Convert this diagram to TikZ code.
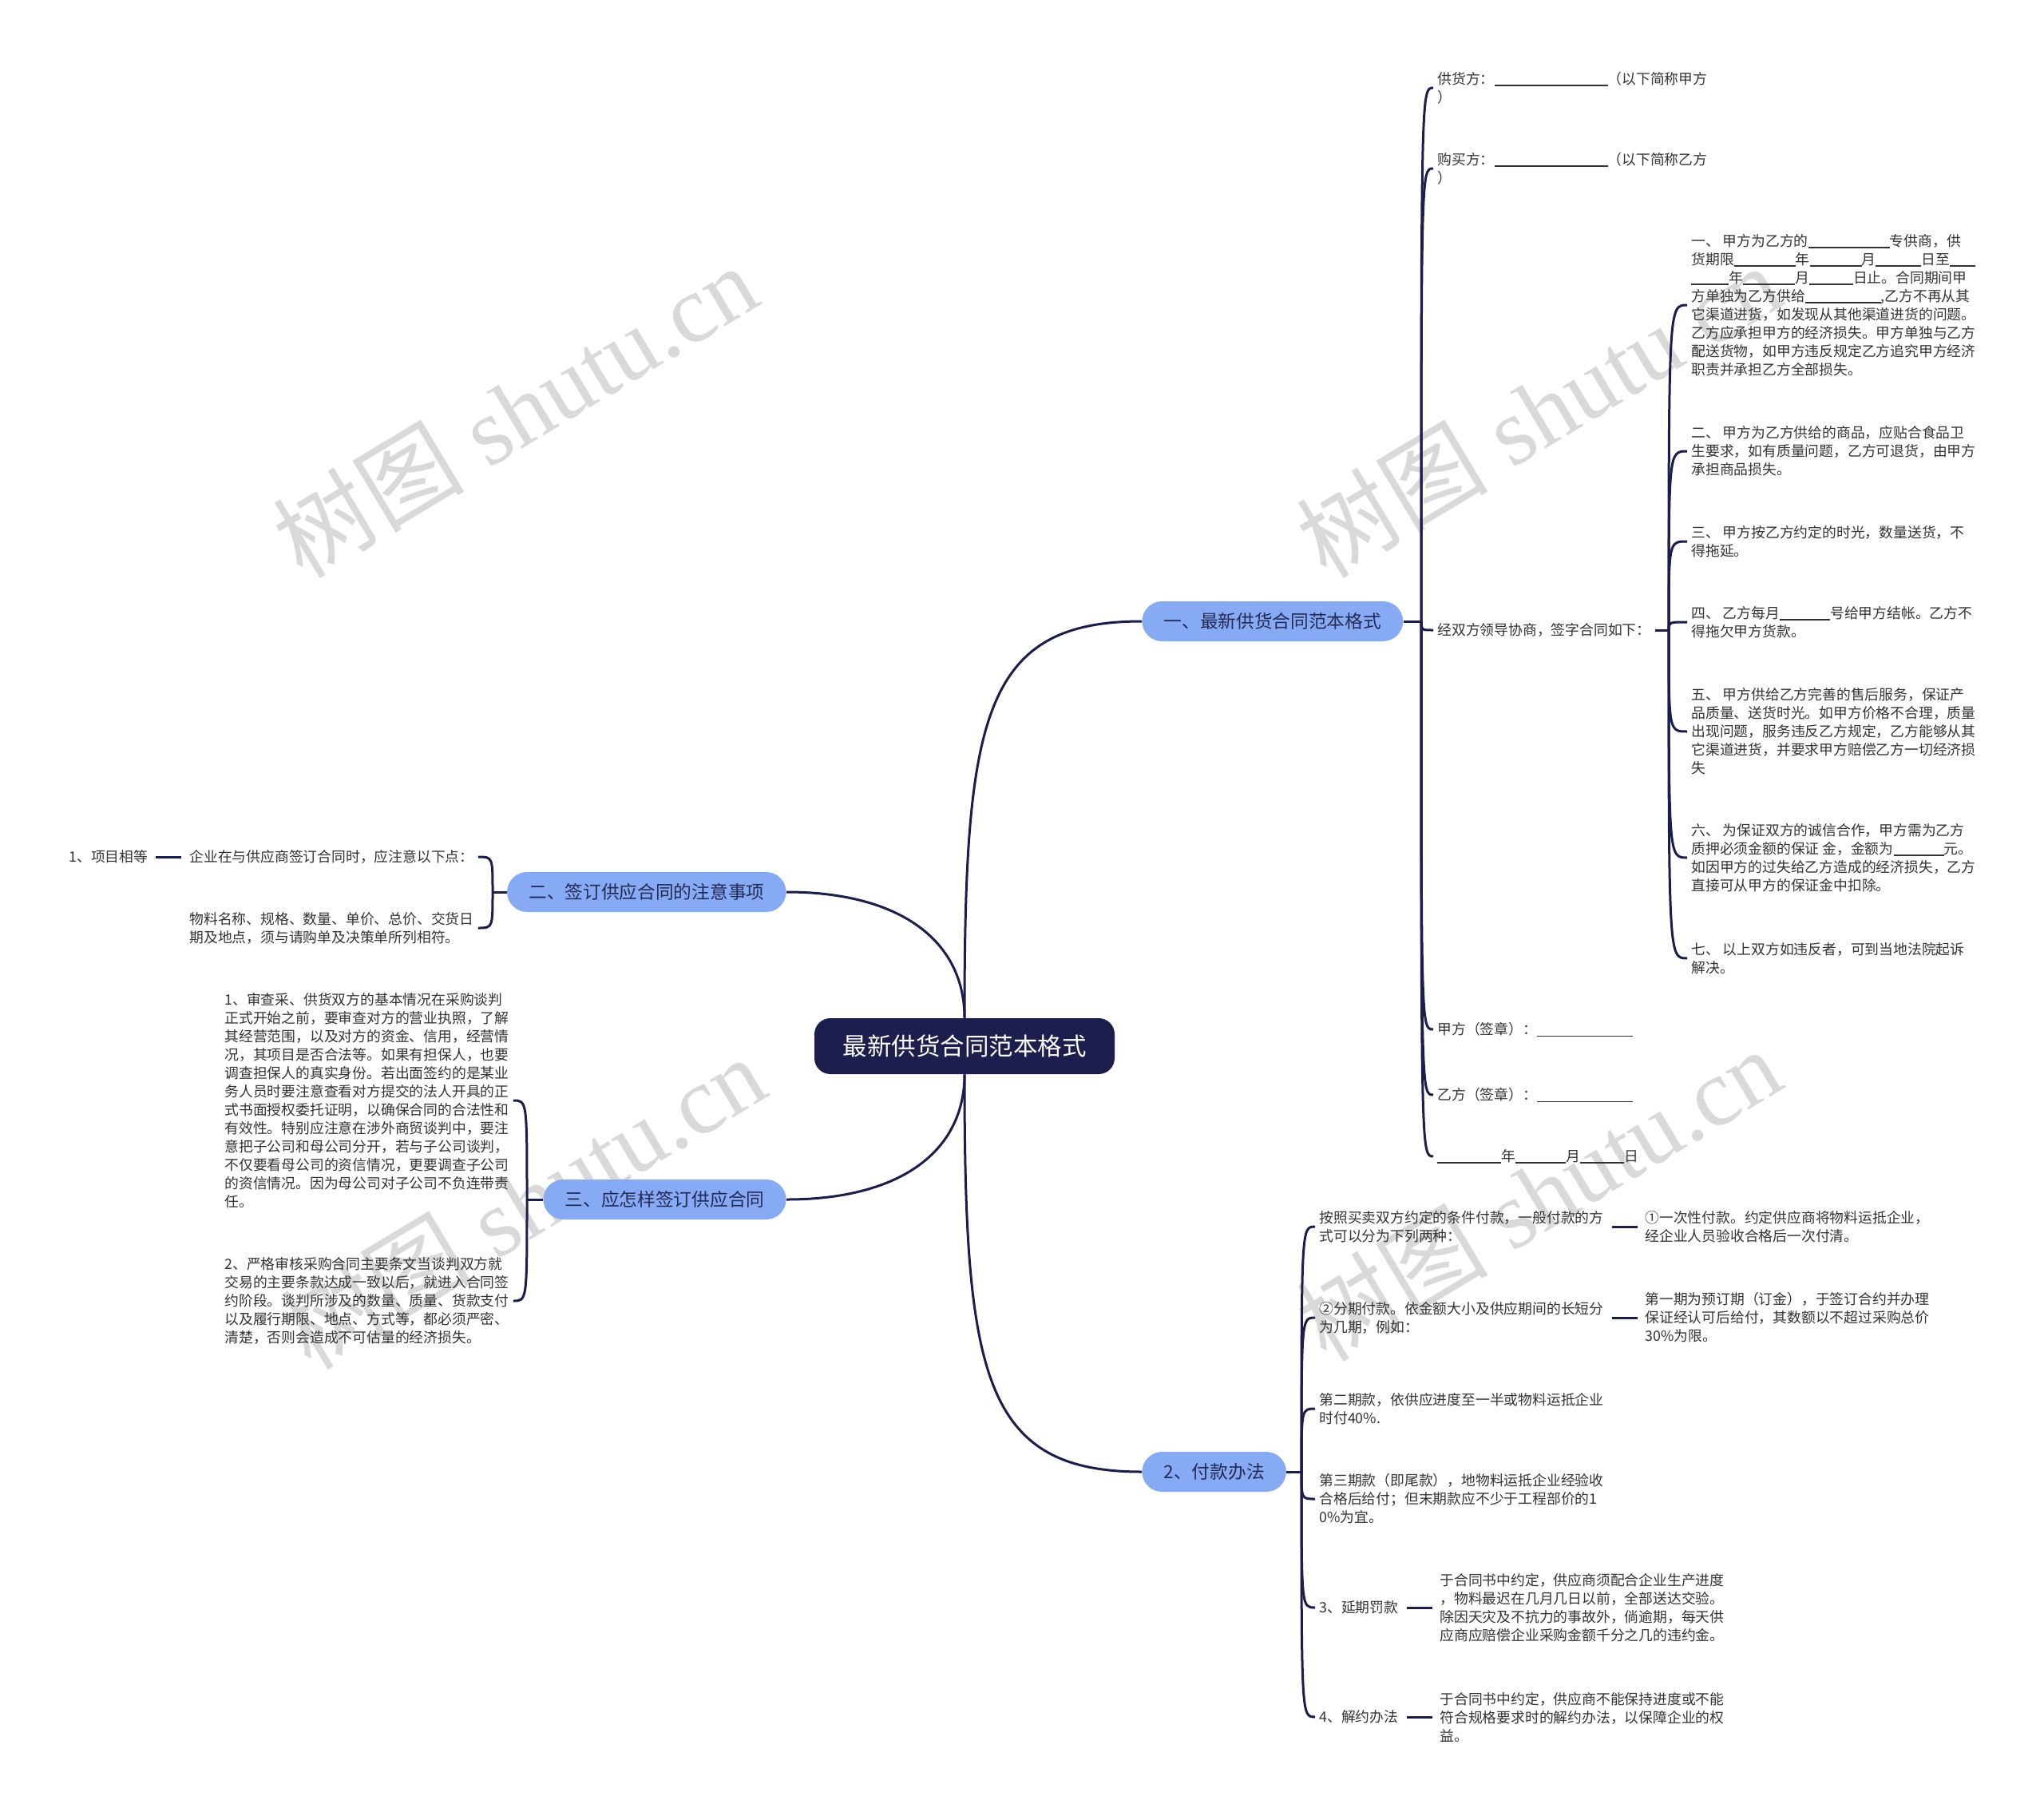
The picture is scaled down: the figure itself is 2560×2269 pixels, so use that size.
\documentclass[tikz,border=0pt]{standalone}
\usepackage{fontspec}
\newfontfamily\cjk{Noto Sans CJK SC}
\newfontfamily\wmfont{Liberation Serif}
\usetikzlibrary{calc}
\definecolor{lnc}{HTML}{1B1D4A}
\definecolor{ctrfill}{HTML}{1C1F4E}
\definecolor{pillfill}{HTML}{86ABF4}
\definecolor{pilltxt}{HTML}{252A55}
\definecolor{txtc}{HTML}{333333}
\definecolor{wmc}{HTML}{D9D9D9}
\newlength\pxu
\setlength\pxu{0.5pt}
\newcommand\bl[1]{\rule[-0.13em]{#1\pxu}{0.07em}}
\begin{document}
\begin{tikzpicture}[x=0.5pt,y=-0.5pt,
  tx/.style={font=\cjk\fontsize{8.9pt}{11.5pt}\selectfont, text=txtc, align=left, inner xsep=2.5pt, inner ysep=0.5pt, anchor=west},
  pill/.style={font=\cjk\fontsize{11.35pt}{13pt}\selectfont, text=pilltxt, fill=pillfill, rounded corners=12.5pt, minimum height=25pt, inner xsep=13.6pt, inner ysep=0pt},
  ctrbox/.style={font=\cjk\fontsize{15.25pt}{17pt}\selectfont, text=white, fill=ctrfill, rounded corners=10pt, minimum height=35pt, inner xsep=17.75pt, inner ysep=0pt},
  ln/.style={draw=lnc, line width=1.5pt},
  br/.style={ln, to path={.. controls (\tikztostart |- \tikztotarget) .. (\tikztotarget)}},
  dsh/.style={ln, shorten <=2.5pt, shorten >=2pt},
  wm/.style={text=wmc, font=\wmfont\fontsize{60pt}{60pt}\selectfont, rotate=31, inner sep=0pt}
]
\fill[white] (0,0) rectangle (2560,2269);
\useasboundingbox (0,0) rectangle (2560,2269);

% watermarks
\node[wm] (wm1) at (645,514) {{\cjk 树图} shutu.cn};
\node[wm] (wm2) at (1927,514) {{\cjk 树图} shutu.cn};
\node[wm] (wm3) at (655,1505) {{\cjk 树图} shutu.cn};
\node[wm] (wm4) at (1927,1495) {{\cjk 树图} shutu.cn};

% main nodes
\node[ctrbox] (ctr) at (1208,1310) {最新供货合同范本格式};
\node[pill, anchor=west] (n1) at (1430,778) {一、最新供货合同范本格式};
\node[pill, anchor=east] (n2) at (985,1117) {二、签订供应合同的注意事项};
\node[pill, anchor=east] (n3) at (985,1502) {三、应怎样签订供应合同};
\node[pill, anchor=west] (n4) at (1430,1843) {2、付款办法};

\draw[ln] (ctr.north) .. controls (1208,900) and (1230,778) .. (n1.west);
\draw[ln] (ctr.south) .. controls (1208,1720) and (1230,1843) .. (n4.west);
\draw[ln] (n2.east) .. controls (1130,1117) and (1208,1180) .. (ctr.north);
\draw[ln] (n3.east) .. controls (1130,1502) and (1208,1440) .. (ctr.south);

% junctions
\coordinate (j1) at (1780,778);
\coordinate (j2) at (2090,789);
\coordinate (j3) at (617,1117);
\coordinate (j4) at (660,1502);
\coordinate (j5) at (1630,1843);

% ---------- branch 1
\node[tx] (gh) at (1795,110) {供货方：\bl{142}（以下简称甲方\\）};
\node[tx] (gm) at (1795,211) {购买方：\bl{142}（以下简称乙方\\）};
\node[tx] (jing) at (1795,789) {经双方领导协商，签字合同如下：};
\node[tx] (jia) at (1795,1289) {甲方（签章）：\bl{120}};
\node[tx] (yi) at (1795,1371) {乙方（签章）：\bl{120}};
\node[tx] (rq) at (1795,1448) {\bl{80}年\bl{63}月\bl{55}日};

\draw[ln] (n1.east) -- (j1);
\foreach \c in {gh,gm,jing,jia,yi,rq} \draw[br] (j1) to (\c.west);

\node[tx] (s1) at (2113,382) {一、 甲方为乙方的\bl{102}专供商，供\\货期限\bl{77}年\bl{65}月\bl{57}日至\bl{32}\\\bl{47}年\bl{65}月\bl{55}日止。合同期间甲\\方单独为乙方供给\bl{95},乙方不再从其\\它渠道进货，如发现从其他渠道进货的问题。\\乙方应承担甲方的经济损失。甲方单独与乙方\\配送货物，如甲方违反规定乙方追究甲方经济\\职责并承担乙方全部损失。};
\node[tx] (s2) at (2113,565) {二、 甲方为乙方供给的商品，应贴合食品卫\\生要求，如有质量问题，乙方可退货，由甲方\\承担商品损失。};
\node[tx] (s3) at (2113,678) {三、 甲方按乙方约定的时光，数量送货，不\\得拖延。};
\node[tx] (s4) at (2113,779) {四、 乙方每月\bl{63}号给甲方结帐。乙方不\\得拖欠甲方货款。};
\node[tx] (s5) at (2113,916) {五、 甲方供给乙方完善的售后服务，保证产\\品质量、送货时光。如甲方价格不合理，质量\\出现问题，服务违反乙方规定，乙方能够从其\\它渠道进货，并要求甲方赔偿乙方一切经济损\\失};
\node[tx] (s6) at (2113,1074) {六、 为保证双方的诚信合作，甲方需为乙方\\质押必须金额的保证 金，金额为\bl{63}元。\\如因甲方的过失给乙方造成的经济损失，乙方\\直接可从甲方的保证金中扣除。};
\node[tx] (s7) at (2113,1200) {七、 以上双方如违反者，可到当地法院起诉\\解决。};

\draw[ln] (jing.east) -- (j2);
\foreach \c in {s1,s2,s3,s4,s5,s6,s7} \draw[br] (j2) to (\c.west);

% ---------- branch 2
\node[tx] (qy) at (232,1073) {企业在与供应商签订合同时，应注意以下点：};
\node[tx] (wl) at (232,1162) {物料名称、规格、数量、单价、总价、交货日\\期及地点，须与请购单及决策单所列相符。};
\node[tx] (xm) at (81,1073) {1、项目相等};
\draw[ln] (n2.west) -- (j3);
\foreach \c in {qy,wl} \draw[br] (j3) to (\c.east);
\draw[dsh] (qy.west) -- (xm.east);

% ---------- branch 3
\node[tx] (sc) at (276,1378) {1、审查采、供货双方的基本情况在采购谈判\\正式开始之前，要审查对方的营业执照，了解\\其经营范围，以及对方的资金、信用，经营情\\况，其项目是否合法等。如果有担保人，也要\\调查担保人的真实身份。若出面签约的是某业\\务人员时要注意查看对方提交的法人开具的正\\式书面授权委托证明，以确保合同的合法性和\\有效性。特别应注意在涉外商贸谈判中，要注\\意把子公司和母公司分开，若与子公司谈判，\\不仅要看母公司的资信情况，更要调查子公司\\的资信情况。因为母公司对子公司不负连带责\\任。};
\node[tx] (yg) at (276,1629) {2、严格审核采购合同主要条文当谈判双方就\\交易的主要条款达成一致以后，就进入合同签\\约阶段。谈判所涉及的数量、质量、货款支付\\以及履行期限、地点、方式等，都必须严密、\\清楚，否则会造成不可估量的经济损失。};
\draw[ln] (n3.west) -- (j4);
\foreach \c in {sc,yg} \draw[br] (j4) to (\c.east);

% ---------- branch 4
\node[tx] (az) at (1647,1536) {按照买卖双方约定的条件付款，一般付款的方\\式可以分为下列两种：};
\node[tx] (yc) at (2055,1536) {①一次性付款。约定供应商将物料运抵企业，\\经企业人员验收合格后一次付清。};
\node[tx] (fq) at (1647,1650) {②分期付款。依金额大小及供应期间的长短分\\为几期，例如：};
\node[tx] (dy) at (2055,1650) {第一期为预订期（订金），于签订合约并办理\\保证经认可后给付，其数额以不超过采购总价\\30\%为限。};
\node[tx] (de) at (1647,1764) {第二期款，依供应进度至一半或物料运抵企业\\时付40\%.};
\node[tx] (ds) at (1647,1877) {第三期款（即尾款），地物料运抵企业经验收\\合格后给付；但末期款应不少于工程部价的1\\0\%为宜。};
\node[tx] (yq) at (1647,2013) {3、延期罚款};
\node[tx] (yqc) at (1798,2013) {于合同书中约定，供应商须配合企业生产进度\\，物料最迟在几月几日以前，全部送达交验。\\除因天灾及不抗力的事故外，倘逾期，每天供\\应商应赔偿企业采购金额千分之几的违约金。};
\node[tx] (jy) at (1647,2150) {4、解约办法};
\node[tx] (jyc) at (1798,2150) {于合同书中约定，供应商不能保持进度或不能\\符合规格要求时的解约办法，以保障企业的权\\益。};

\draw[ln] (n4.east) -- (j5);
\foreach \c in {az,fq,de,ds,yq,jy} \draw[br] (j5) to (\c.west);
\draw[dsh] (az.east) -- (yc.west);
\draw[dsh] (fq.east) -- (dy.west);
\draw[dsh] (yq.east) -- (yqc.west);
\draw[dsh] (jy.east) -- (jyc.west);
\end{tikzpicture}
\end{document}
